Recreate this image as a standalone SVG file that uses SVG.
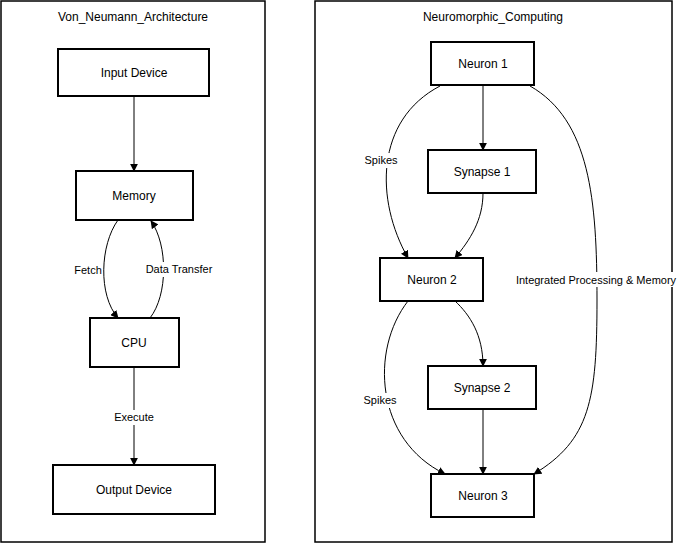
<svg xmlns="http://www.w3.org/2000/svg" width="679" height="544" viewBox="0 0 679 544">
<style>
text{font-family:"Liberation Sans",Arial,sans-serif;font-size:12px;fill:#000;text-anchor:middle;dominant-baseline:central}
.cl{fill:#fff;stroke:#000;stroke-width:1.5}
.n{fill:#fff;stroke:#000;stroke-width:2}
.e{fill:none;stroke:#000;stroke-width:1;marker-end:url(#a)}
.lb{fill:#fff}
.s{font-size:11px}
</style>
<defs><marker id="a" viewBox="0 0 10 10" refX="9" refY="5" markerWidth="8" markerHeight="8" orient="auto"><path d="M0,0L10,5L0,10z" fill="#000"/></marker></defs>
<rect width="679" height="544" fill="#fff"/>
<g id="Von_Neumann_Architecture"><rect class="cl" x="1" y="1" width="264" height="541"/><text x="133" y="17">Von_Neumann_Architecture</text></g>
<g id="Neuromorphic_Computing"><rect class="cl" x="315" y="1" width="357" height="541"/><text x="493" y="17">Neuromorphic_Computing</text></g>
<g id="connectors">
<path class="e" d="M134,96V171"/>
<path class="e" d="M118,220C100,245 98,295 118,318"/>
<path class="e" d="M150,318C168,295 168,245 151,221"/>
<path class="e" d="M134,367V465"/>
<path class="e" d="M483,85V150"/>
<path class="e" d="M440,86C375,120 375,200 408,258"/>
<path class="e" d="M483,193C483,220 470,240 455,258"/>
<path class="e" d="M530,86C590,120 597,200 597,300C597,400 590,440 534,474"/>
<path class="e" d="M455,301C470,315 483,335 483,366"/>
<path class="e" d="M408,301C370,350 375,440 445,474"/>
<path class="e" d="M483,409V474"/>
<text class="s" x="88" y="270">Fetch</text>
<rect class="lb" x="144" y="262" width="70" height="15"/><text class="s" x="179" y="269">Data Transfer</text>
<rect class="lb" x="112" y="410" width="44" height="15"/><text class="s" x="134" y="417">Execute</text>
<rect class="lb" x="362" y="153" width="38" height="15"/><text class="s" x="381" y="160">Spikes</text>
<rect class="lb" x="517" y="272" width="158" height="15"/><text class="s" x="596" y="280">Integrated Processing &amp; Memory</text>
<rect class="lb" x="362" y="393" width="38" height="15"/><text class="s" x="380" y="400">Spikes</text>
</g>
<g id="Input_Device"><rect class="n" x="58" y="49" width="151" height="47"/><text x="134" y="73">Input Device</text></g>
<g id="Memory"><rect class="n" x="76" y="171" width="117" height="49"/><text x="134" y="196">Memory</text></g>
<g id="CPU"><rect class="n" x="90" y="318" width="89" height="49"/><text x="134" y="343">CPU</text></g>
<g id="Output_Device"><rect class="n" x="53" y="465" width="162" height="49"/><text x="134" y="490">Output Device</text></g>
<g id="Neuron_1"><rect class="n" x="431" y="42" width="103" height="43"/><text x="483" y="64">Neuron 1</text></g>
<g id="Synapse_1"><rect class="n" x="428" y="150" width="108" height="43"/><text x="482" y="172">Synapse 1</text></g>
<g id="Neuron_2"><rect class="n" x="380" y="258" width="103" height="43"/><text x="432" y="280">Neuron 2</text></g>
<g id="Synapse_2"><rect class="n" x="428" y="366" width="108" height="43"/><text x="482" y="388">Synapse 2</text></g>
<g id="Neuron_3"><rect class="n" x="431" y="474" width="103" height="43"/><text x="483" y="496">Neuron 3</text></g>
</svg>
